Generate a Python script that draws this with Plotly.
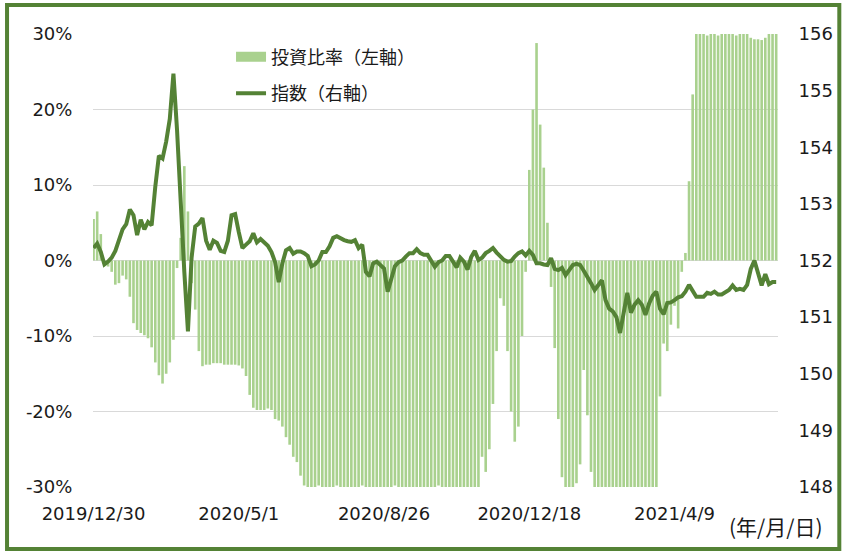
import plotly.graph_objects as go

# Investment ratio (%), left axis  (one value every 2 trading days)
ratio = [
    5.5, 6.5, 3.5, -0.5, -0.8, -1.5, -3.2, -3.0, -2.0, -2.5,
    -4.8, -8.3, -9.2, -9.6, -9.9, -10.3, -11.5, -13.5, -15.2, -16.3,
    -15.0, -13.5, -10.5, -1.0, 3.0, 12.5, 6.5, -3.0, -6.5, -12.0,
    -14.0, -13.8, -13.8, -13.6, -13.6, -13.6, -13.8, -13.8, -13.8, -13.8,
    -13.9, -14.3, -15.3, -17.8, -19.5, -19.8, -19.8, -19.8, -19.6, -19.8,
    -21.0, -21.2, -22.0, -23.4, -24.4, -26.0, -26.7, -28.5, -29.8, -30.0,
    -30.0, -30.0, -29.8, -30.0, -30.0, -30.0, -30.0, -29.8, -30.0, -30.0,
    -30.0, -30.0, -30.0, -30.0, -29.8, -30.0, -30.0, -30.0, -30.0, -30.0,
    -30.0, -30.0, -30.0, -29.8, -30.0, -30.0, -30.0, -30.0, -30.0, -30.0,
    -30.0, -30.0, -30.0, -30.0, -30.0, -29.8, -30.0, -30.0, -30.0, -30.0,
    -30.0, -30.0, -30.0, -30.0, -30.0, -30.0, -30.0, -26.0, -28.0, -25.0,
    -19.0, -12.0, -5.0, -6.0, -12.0, -20.0, -24.0, -22.0, -10.0, -1.5,
    12.0, 20.0, 28.8, 18.0, 12.3, 5.0, -3.5, -11.6, -21.0, -28.7,
    -30.0, -30.0, -30.0, -29.5, -27.0, -14.5, -20.5, -28.0, -30.0, -30.0,
    -30.0, -30.0, -30.0, -30.0, -30.0, -30.0, -30.0, -30.0, -30.0, -30.0,
    -30.0, -30.0, -30.0, -30.0, -30.0, -30.0, -18.0, -11.0, -12.0, -8.5,
    -6.0, -9.0, -1.5, 1.0, 10.5, 22.0, 30.0, 30.0, 30.0, 29.8,
    30.0, 30.0, 29.8, 30.0, 30.0, 30.0, 30.0, 29.8, 30.0, 30.0,
    30.0, 29.5, 29.3, 29.3, 29.2, 29.5, 30.0, 30.0, 30.0,
]

# Index level, right axis
index_level = [
    152.22, 152.30, 152.15, 151.93, 151.98, 152.05, 152.17, 152.38, 152.55, 152.64,
    152.90, 152.80, 152.45, 152.72, 152.55, 152.68, 152.62, 153.30, 153.85, 153.80,
    154.10, 154.50, 155.30, 154.30, 152.90, 151.80, 150.75, 152.05, 152.60, 152.65,
    152.75, 152.35, 152.19, 152.35, 152.31, 152.17, 152.15, 152.35, 152.80, 152.82,
    152.50, 152.22, 152.28, 152.34, 152.48, 152.32, 152.38, 152.31, 152.26, 152.15,
    151.97, 151.62, 151.95, 152.18, 152.22, 152.12, 152.16, 152.16, 152.13, 152.08,
    151.90, 151.93, 152.00, 152.15, 152.15, 152.25, 152.40, 152.43, 152.39, 152.36,
    152.34, 152.33, 152.36, 152.22, 152.28, 151.80, 151.72, 151.95, 151.98, 151.92,
    151.86, 151.45, 151.66, 151.90, 151.97, 152.00, 152.07, 152.13, 152.13, 152.20,
    152.13, 152.10, 152.10, 151.98, 151.89, 151.97, 152.00, 152.08, 152.08, 151.98,
    151.88, 152.05, 151.98, 151.84, 152.06, 152.17, 152.01, 152.05, 152.13, 152.17,
    152.22, 152.14, 152.07, 152.01, 151.98, 151.99, 152.07, 152.13, 152.16, 152.09,
    152.17, 152.10, 151.95, 151.95, 151.93, 151.92, 152.04, 151.85, 151.83, 151.87,
    151.74, 151.84, 151.92, 151.94, 151.92, 151.82, 151.72, 151.60, 151.48, 151.57,
    151.65, 151.30, 151.15, 151.10, 151.00, 150.72, 151.13, 151.43, 151.08, 151.22,
    151.30, 151.22, 151.04, 151.24, 151.38, 151.45, 151.15, 151.05, 151.25, 151.26,
    151.30, 151.35, 151.37, 151.45, 151.57, 151.45, 151.36, 151.36, 151.36, 151.43,
    151.41, 151.45, 151.40, 151.40, 151.45, 151.48, 151.56, 151.48, 151.50, 151.48,
    151.57, 151.85, 152.00, 151.80, 151.56, 151.76, 151.58, 151.62, 151.62,
]

# Trading-day position of each sample and the dated ticks
trading_day = list(range(0, 2 * len(ratio), 2))
tick_days = [0, 80, 160, 240, 320]
tick_labels = ["2019/12/30", "2020/5/1", "2020/8/26", "2020/12/18", "2021/4/9"]

# Left-axis ticks
ratio_ticks = [-30, -20, -10, 0, 10, 20, 30]
ratio_tick_labels = ["-30%", "-20%", "-10%", "0%", "10%", "20%", "30%"]

BAR_COLOR = "#a9d18e"
LINE_COLOR = "#548235"
TEXT = "#1a1a1a"
GRID = "#d9d9d9"

fig = go.Figure()
fig.add_trace(go.Bar(x=trading_day, y=ratio, marker=dict(color=BAR_COLOR, line=dict(width=0)),
                     showlegend=False, yaxis="y"))
# legend swatch for bars (wide rectangle like the original)
fig.add_trace(go.Scatter(x=[None], y=[None], mode="lines", name="投資比率（左軸）",
                         line=dict(color=BAR_COLOR, width=10), yaxis="y", legendgroup="a"))
fig.add_trace(go.Scatter(x=trading_day, y=index_level, mode="lines", name="指数（右軸）",
                         line=dict(color=LINE_COLOR, width=4), yaxis="y2", legendgroup="b"))

fig.update_layout(
    width=845, height=551,
    margin=dict(l=93, r=59, t=34, b=64),
    paper_bgcolor="white", plot_bgcolor="white",
    bargap=0.28,
    font=dict(family="DejaVu Sans", size=18, color=TEXT),
    xaxis=dict(range=[-0.3, 377], tickmode="array", tickvals=tick_days, ticktext=tick_labels,
               showgrid=False, zeroline=False, showline=False,
               ticks="outside", ticklen=10, tickcolor="rgba(0,0,0,0)",
               tickfont=dict(family="DejaVu Sans", size=18, color=TEXT)),
    yaxis=dict(range=[-30, 30], tickmode="array", tickvals=ratio_ticks, ticktext=ratio_tick_labels,
               showgrid=True, gridcolor=GRID, gridwidth=1, zeroline=False, showline=False,
               ticks="outside", ticklen=16, tickcolor="rgba(0,0,0,0)",
               tickfont=dict(family="DejaVu Sans", size=18, color=TEXT)),
    yaxis2=dict(range=[148, 156], dtick=1, overlaying="y", side="right", showgrid=False,
                zeroline=False, showline=False,
                ticks="outside", ticklen=16, tickcolor="rgba(0,0,0,0)",
                tickfont=dict(family="DejaVu Sans", size=18, color=TEXT)),
    legend=dict(x=0.2015, y=0.99, xanchor="left", yanchor="top", bgcolor="rgba(0,0,0,0)",
                font=dict(family="Noto Sans CJK JP", size=18, color=TEXT),
                traceorder="grouped", tracegroupgap=10),
    shapes=[dict(type="rect", xref="paper", yref="paper",
                 x0=-0.1255, x1=1.0895, y0=-0.1369, y1=1.064,
                 line=dict(color=LINE_COLOR, width=4), fillcolor="rgba(0,0,0,0)")],
    annotations=[dict(text="(年/月/日)", xref="paper", yref="paper", x=0.926, y=-0.085,
                      xanchor="left", yanchor="middle", showarrow=False,
                      font=dict(family="Noto Sans CJK JP", size=21, color=TEXT))],
)

fig.write_html("out.html", config={"displayModeBar": False},
               post_script="document.body.style.margin='0';")
